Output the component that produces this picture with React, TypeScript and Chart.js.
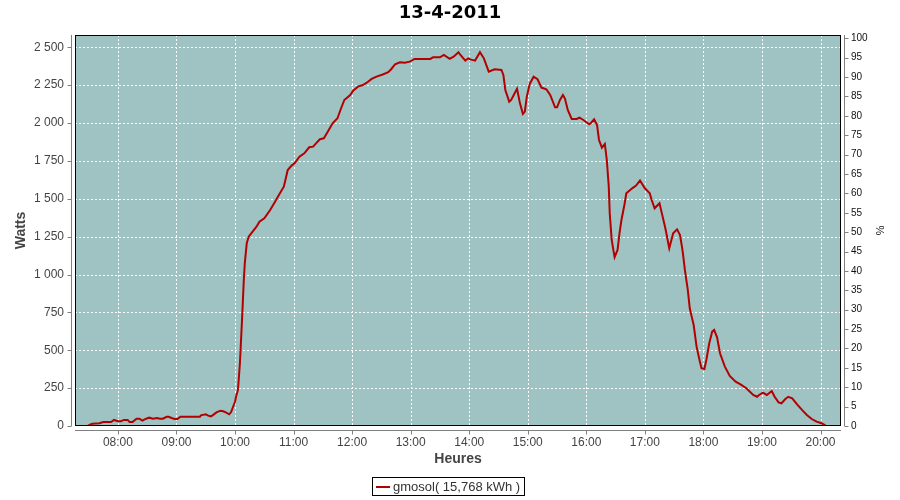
import React, { useEffect, useRef } from 'react';
import { Chart, registerables } from 'chart.js';

Chart.register(...registerables);

const TITLE = '13-4-2011';
const SERIES_LABEL = 'gmosol( 15,768 kWh )';
const X_TITLE = 'Heures';
const Y_TITLE = 'Watts';
const Y2_TITLE = '%';

const X_MIN = '07:16';
const X_MAX = '20:21';
const W_MAX = 2581;
const PCT_MAX = 100.85;

const HOUR_TICKS = ['08:00', '09:00', '10:00', '11:00', '12:00', '13:00', '14:00', '15:00', '16:00', '17:00', '18:00', '19:00', '20:00'];
const WATT_TICKS = [0, 250, 500, 750, 1000, 1250, 1500, 1750, 2000, 2250, 2500];
const PCT_TICKS = [0, 5, 10, 15, 20, 25, 30, 35, 40, 45, 50, 55, 60, 65, 70, 75, 80, 85, 90, 95, 100];

const TIMES = [
  '07:29', '07:33', '07:34', '07:41', '07:45', '07:53', '07:56', '08:00', '08:03', '08:06',
  '08:10', '08:12', '08:15', '08:19', '08:22', '08:25', '08:29', '08:32', '08:36', '08:40',
  '08:43', '08:46', '08:50', '08:52', '08:55', '08:58', '09:01', '09:04', '09:24', '09:25',
  '09:30', '09:32', '09:35', '09:37', '09:41', '09:45', '09:48', '09:51', '09:54', '09:56',
  '09:58', '10:00', '10:01', '10:03', '10:04', '10:05', '10:06', '10:07', '10:08', '10:09',
  '10:10', '10:12', '10:14', '10:18', '10:22', '10:25', '10:30', '10:36', '10:41', '10:46',
  '10:50', '10:54', '10:58', '11:01', '11:06', '11:11', '11:16', '11:20', '11:23', '11:27',
  '11:31', '11:35', '11:40', '11:45', '11:48', '11:52', '11:58', '12:01', '12:06', '12:11',
  '12:15', '12:20', '12:25', '12:32', '12:37', '12:40', '12:44', '12:49', '12:54', '12:59',
  '13:04', '13:20', '13:23', '13:30', '13:34', '13:40', '13:44', '13:49', '13:51', '13:56',
  '13:59', '14:01', '14:06', '14:11', '14:15', '14:20', '14:26', '14:33', '14:35', '14:37',
  '14:41', '14:43', '14:49', '14:52', '14:55', '14:57', '14:59', '15:02', '15:06', '15:10',
  '15:14', '15:19', '15:23', '15:28', '15:30', '15:33', '15:36', '15:38', '15:41', '15:45',
  '15:50', '15:53', '15:57', '16:03', '16:05', '16:08', '16:11', '16:13', '16:16', '16:19',
  '16:21', '16:23', '16:24', '16:26', '16:28', '16:29', '16:32', '16:34', '16:36', '16:39',
  '16:41', '16:47', '16:51', '16:55', '17:00', '17:05', '17:07', '17:10', '17:15', '17:17',
  '17:21', '17:25', '17:29', '17:33', '17:36', '17:38', '17:39', '17:41', '17:44', '17:46',
  '17:48', '17:50', '17:53', '17:56', '17:58', '18:01', '18:03', '18:06', '18:09', '18:11',
  '18:14', '18:17', '18:22', '18:27', '18:33', '18:38', '18:44', '18:51', '18:55', '18:57',
  '19:01', '19:05', '19:10', '19:13', '19:17', '19:20', '19:24', '19:27', '19:31', '19:36',
  '19:41', '19:46', '19:51', '19:56', '20:01', '20:05',
];

const WATTS = [
  0, 13, 15, 18, 26, 26, 40, 31, 31, 40,
  40, 26, 26, 48, 48, 35, 48, 55, 48, 53,
  48, 48, 61, 61, 53, 46, 46, 61, 61, 70,
  77, 70, 63, 70, 90, 101, 97, 88, 77, 92,
  127, 160, 193, 238, 326, 414, 546, 678, 821, 964,
  1074, 1206, 1250, 1283, 1316, 1349, 1371, 1426, 1481, 1536,
  1580, 1690, 1719, 1734, 1778, 1800, 1840, 1844, 1866, 1893,
  1899, 1943, 1998, 2031, 2086, 2152, 2185, 2214, 2240, 2251,
  2266, 2291, 2306, 2322, 2335, 2355, 2388, 2401, 2398, 2405,
  2423, 2423, 2434, 2434, 2449, 2423, 2438, 2467, 2449, 2412,
  2427, 2420, 2412, 2467, 2427, 2339, 2355, 2350, 2317, 2218,
  2141, 2152, 2226, 2130, 2060, 2075, 2174, 2258, 2306, 2289,
  2234, 2223, 2185, 2104, 2104, 2152, 2185, 2163, 2086, 2027,
  2027, 2035, 2020, 1992, 2002, 2025, 1987, 1888, 1837, 1862,
  1756, 1580, 1404, 1228, 1151, 1114, 1162, 1272, 1360, 1459,
  1536, 1569, 1587, 1620, 1569, 1536, 1492, 1437, 1470, 1415,
  1305, 1173, 1272, 1298, 1261, 1184, 1140, 1030, 898, 777,
  722, 667, 524, 436, 381, 376, 436, 546, 623, 634,
  585, 480, 392, 330, 293, 275, 249, 205, 193, 205,
  220, 205, 231, 193, 156, 150, 178, 193, 183, 143,
  106, 73, 46, 29, 18, 4,
];

const LINE_COLOR = '#B30000';
const PLOT_BG = '#9EC3C2';
const AXIS_GRAY = '#808080';
const FONT = "'Liberation Sans', Arial, sans-serif";

const toMin = (s: string) => {
  const [h, m] = s.split(':').map(Number);
  return h * 60 + m;
};
const fmtTime = (v: number) => {
  const h = Math.floor(v / 60);
  const m = Math.round(v - h * 60);
  return String(h).padStart(2, '0') + ':' + String(m).padStart(2, '0');
};
const fmtThousands = (v: number) => String(v).replace(/\B(?=(\d{3})+(?!\d))/g, ' ');

const framePlugin = {
  id: 'frame',
  beforeDraw(chart: any) {
    const { ctx, chartArea: a } = chart;
    ctx.save();
    ctx.fillStyle = PLOT_BG;
    ctx.fillRect(a.left, a.top, a.right - a.left, a.bottom - a.top);
    ctx.restore();
  },
  beforeDatasetsDraw(chart: any) {
    const { ctx, chartArea: a, scales } = chart;
    ctx.save();
    ctx.strokeStyle = '#ffffff';
    ctx.lineWidth = 1;
    ctx.setLineDash([2, 2]);
    ctx.beginPath();
    scales.x.ticks.forEach((t: any) => {
      const px = Math.round(scales.x.getPixelForValue(t.value)) + 0.5;
      ctx.moveTo(px, a.top);
      ctx.lineTo(px, a.bottom);
    });
    scales.y.ticks.forEach((t: any) => {
      const py = Math.round(scales.y.getPixelForValue(t.value)) + 0.5;
      ctx.moveTo(a.left, py);
      ctx.lineTo(a.right, py);
    });
    ctx.stroke();
    ctx.restore();
  },
  afterDatasetsDraw(chart: any) {
    const { ctx, chartArea: a } = chart;
    ctx.save();
    ctx.strokeStyle = '#000';
    ctx.lineWidth = 1;
    ctx.strokeRect(a.left + 0.5, a.top + 0.5, a.right - a.left - 1, a.bottom - a.top - 1);
    ctx.restore();
  },
  afterDraw(chart: any) {
    const { ctx, chartArea: a, scales } = chart;
    ctx.save();
    ctx.strokeStyle = AXIS_GRAY;
    ctx.lineWidth = 1;
    ctx.beginPath();
    const lx = a.left - 4 + 0.5;
    ctx.moveTo(lx, a.top);
    ctx.lineTo(lx, a.bottom);
    scales.y.ticks.forEach((t: any) => {
      const py = Math.round(scales.y.getPixelForValue(t.value)) + 0.5;
      ctx.moveTo(lx - 4, py);
      ctx.lineTo(lx, py);
    });
    const rx = a.right + 4 - 0.5;
    ctx.moveTo(rx, a.top);
    ctx.lineTo(rx, a.bottom);
    scales.y1.ticks.forEach((t: any) => {
      const py = Math.round(scales.y1.getPixelForValue(t.value)) + 0.5;
      ctx.moveTo(rx, py);
      ctx.lineTo(rx + 4, py);
    });
    const by = a.bottom + 4 + 0.5;
    ctx.moveTo(a.left, by);
    ctx.lineTo(a.right, by);
    scales.x.ticks.forEach((t: any) => {
      const px = Math.round(scales.x.getPixelForValue(t.value)) + 0.5;
      ctx.moveTo(px, by);
      ctx.lineTo(px, by + 4);
    });
    ctx.stroke();

    // legend
    const label = chart.data.datasets[0].label;
    ctx.font = `13px ${FONT}`;
    const tw = ctx.measureText(label).width;
    const boxW = 4 + 14 + 3 + tw + 4;
    const boxH = 18;
    const cx = 448;
    const bx = Math.round(cx - boxW / 2);
    const byy = 477;
    ctx.strokeStyle = '#000';
    ctx.strokeRect(bx + 0.5, byy + 0.5, Math.round(boxW), boxH);
    ctx.strokeStyle = LINE_COLOR;
    ctx.lineWidth = 2;
    ctx.beginPath();
    ctx.moveTo(bx + 4, byy + 10);
    ctx.lineTo(bx + 18, byy + 10);
    ctx.stroke();
    ctx.fillStyle = '#333';
    ctx.textBaseline = 'alphabetic';
    ctx.textAlign = 'left';
    ctx.fillText(label, bx + 21, byy + 14);
    ctx.restore();
  },
};

export default function App() {
  const canvasRef = useRef<HTMLCanvasElement | null>(null);

  useEffect(() => {
    if (!canvasRef.current) return;
    const points = TIMES.map((t, i) => ({ x: toMin(t), y: WATTS[i] }));
    const chart = new Chart(canvasRef.current, {
      type: 'line',
      data: {
        datasets: [
          {
            label: SERIES_LABEL,
            data: points,
            borderColor: LINE_COLOR,
            backgroundColor: LINE_COLOR,
            borderWidth: 2,
            pointRadius: 0,
            tension: 0,
            fill: false,
            yAxisID: 'y',
          },
        ],
      },
      options: {
        responsive: false,
        animation: false,
        parsing: false,
        layout: { padding: 0 },
        plugins: {
          legend: { display: false },
          tooltip: { enabled: false },
          title: {
            display: true,
            text: TITLE,
            color: '#000',
            font: { family: "'DejaVu Sans', sans-serif", size: 18, weight: 'bold' },
            padding: { top: 3, bottom: 10.4 },
          },
        },
        scales: {
          x: {
            type: 'linear',
            position: 'bottom',
            min: toMin(X_MIN),
            max: toMin(X_MAX),
            afterBuildTicks: (s: any) => {
              s.ticks = HOUR_TICKS.map((t) => ({ value: toMin(t) }));
            },
            afterFit: (s: any) => {
              s.height = 74;
            },
            grid: { display: false, drawTicks: false },
            border: { display: false },
            ticks: {
              callback: (v: any) => fmtTime(Number(v)),
              color: '#444',
              font: { family: FONT, size: 12 },
              padding: 9,
              maxRotation: 0,
              autoSkip: false,
            },
            title: {
              display: true,
              text: X_TITLE,
              color: '#444',
              font: { family: FONT, size: 14, weight: 'bold' },
              padding: { top: 0, bottom: 32 },
            },
          },
          y: {
            type: 'linear',
            position: 'left',
            min: 0,
            max: W_MAX,
            afterBuildTicks: (s: any) => {
              s.ticks = WATT_TICKS.map((v) => ({ value: v }));
            },
            afterFit: (s: any) => {
              s.width = 75;
            },
            grid: { display: false, drawTicks: false },
            border: { display: false },
            ticks: {
              callback: (v: any) => fmtThousands(Number(v)),
              color: '#444',
              font: { family: FONT, size: 12 },
              padding: 11,
              autoSkip: false,
            },
            title: {
              display: true,
              text: Y_TITLE,
              color: '#444',
              font: { family: FONT, size: 14, weight: 'bold' },
              padding: { top: 13, bottom: 0 },
            },
          },
          y1: {
            type: 'linear',
            position: 'right',
            min: 0,
            max: PCT_MAX,
            afterBuildTicks: (s: any) => {
              s.ticks = PCT_TICKS.map((v) => ({ value: v }));
            },
            afterFit: (s: any) => {
              s.width = 59;
            },
            grid: { display: false, drawTicks: false },
            border: { display: false },
            ticks: {
              callback: (v: any) => String(v),
              color: '#111',
              font: { family: FONT, size: 10 },
              padding: 10,
              autoSkip: false,
            },
            title: {
              display: true,
              text: Y2_TITLE,
              color: '#111',
              font: { family: FONT, size: 11 },
              padding: { top: 14, bottom: 0 },
            },
          },
        },
      } as any,
      plugins: [framePlugin],
    });
    return () => chart.destroy();
  }, []);

  return (
    <div style={{ position: 'absolute', left: 0, top: 0, width: 900, height: 500, background: '#fff' }}>
      <canvas ref={canvasRef} width={900} height={500} style={{ display: 'block' }} />
    </div>
  );
}
